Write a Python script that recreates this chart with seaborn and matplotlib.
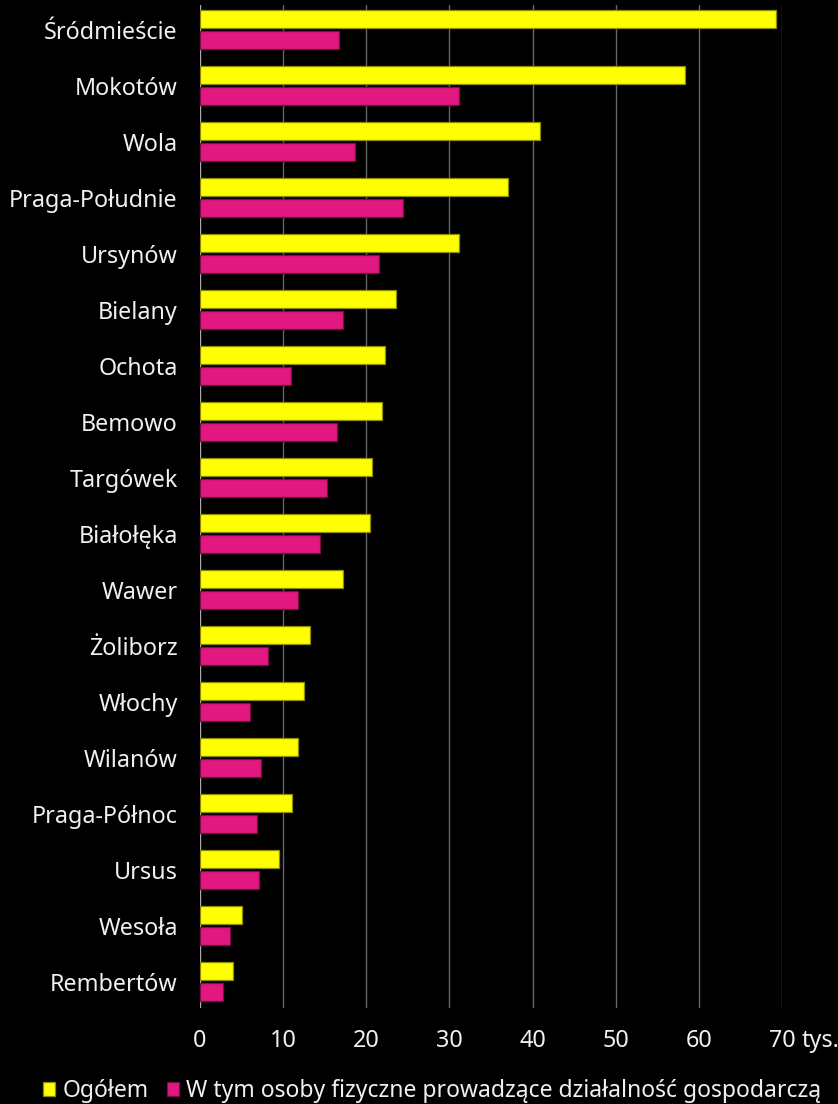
import matplotlib
matplotlib.use("Agg")
import matplotlib.pyplot as plt
import matplotlib.colors as mcolors
import seaborn as sns
import pandas as pd

districts = ["Śródmieście", "Mokotów", "Wola", "Praga-Południe", "Ursynów", "Bielany",
             "Ochota", "Bemowo", "Targówek", "Białołęka", "Wawer", "Żoliborz", "Włochy",
             "Wilanów", "Praga-Północ", "Ursus", "Wesoła", "Rembertów"]
total = [69.3, 58.3, 40.9, 37.0, 31.1, 23.6, 22.3, 21.9, 20.7, 20.4, 17.2, 13.2, 12.5,
         11.75, 11.1, 9.5, 5.1, 4.0]
persons = [16.7, 31.1, 18.7, 24.4, 21.5, 17.2, 10.9, 16.5, 15.3, 14.4, 11.8, 8.2, 6.05,
           7.3, 6.9, 7.05, 3.6, 2.8]
series = ["Ogółem", "W tym osoby fizyczne prowadzące działalność gospodarczą"]
colors = ["#ffff00", "#e0187f"]
xticks = [0, 10, 20, 30, 40, 50, 60, 70]
xticklabels = ["0", "10", "20", "30", "40", "50", "60", "70"]
unit = "tys."

df = pd.DataFrame({
    "district": districts * 2,
    "value": total + persons,
    "series": [series[0]] * len(districts) + [series[1]] * len(districts),
})

sns.set_style("dark")
plt.rcParams["font.family"] = ["Noto Sans", "DejaVu Sans"]
TXT = "#f0f0f0"
FS = 16.8

W, H = 838, 1104
fig = plt.figure(figsize=(W / 100, H / 100), dpi=100, facecolor="black")
ax = fig.add_axes([200 / W, 1 - 1008 / H, 582 / W, 1003 / H], facecolor="black")

sns.barplot(data=df, x="value", y="district", hue="series", hue_order=series,
            palette=colors, saturation=1, orient="h", width=0.73, gap=0.12, ax=ax,
            zorder=3)

for p in ax.patches:
    fc = mcolors.to_rgb(p.get_facecolor())
    p.set_edgecolor(tuple(c * 0.55 for c in fc))
    p.set_linewidth(0.9)

ax.set_xlim(0, 70)
ax.set_ylim(17.47, -0.44)
ax.set_xticks(xticks)
ax.set_xticklabels(xticklabels)
ax.set_xlabel("")
ax.set_ylabel("")
ax.grid(False)
ax.xaxis.grid(True, color="#666666", linewidth=1)
ax.set_axisbelow(True)
gl = ax.get_xgridlines()
if gl:
    gl[0].set_color("#aaaaaa")
for s in ax.spines.values():
    s.set_visible(False)
ax.tick_params(axis="y", length=0, pad=16, labelsize=FS, colors=TXT)
ax.tick_params(axis="x", length=0, pad=15, labelsize=FS, colors=TXT)
for t in ax.get_yticklabels():
    t.set_y(t.get_position()[1])
    t.set_va("center_baseline")

ax.annotate(unit, xy=(70, 0), xycoords=("data", "axes fraction"),
            xytext=(14, -15), textcoords="offset points", ha="left", va="top",
            fontsize=FS, color=TXT)

handles, labels = ax.get_legend_handles_labels()
if ax.get_legend() is not None:
    ax.get_legend().remove()
leg = fig.legend(handles, labels, loc="center", bbox_to_anchor=(432 / W, 1 - 1091 / H),
                 ncol=2, frameon=False, fontsize=16.5, handlelength=0.55, handleheight=0.6,
                 handletextpad=0.3, columnspacing=0.8, labelcolor=TXT)

fig.savefig("out.png", dpi=100, facecolor="black")
